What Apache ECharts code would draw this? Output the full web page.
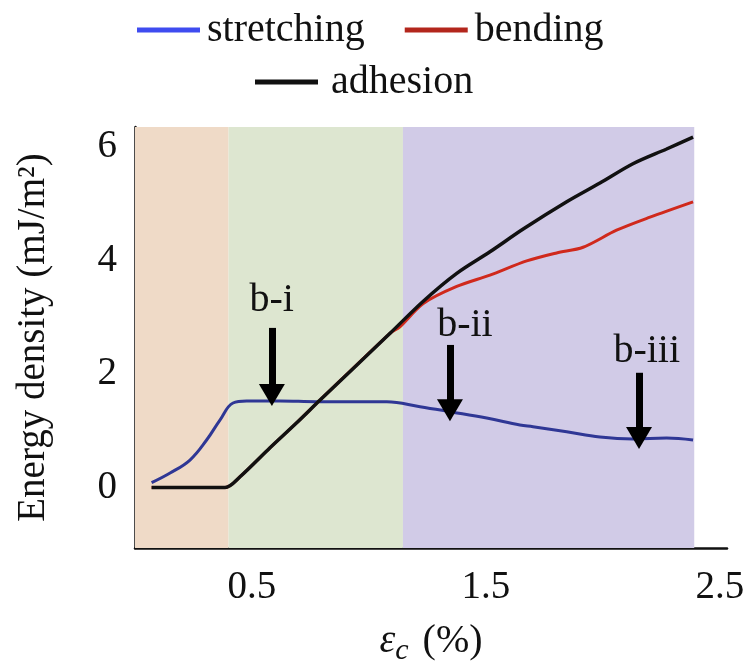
<!DOCTYPE html>
<html>
<head>
<meta charset="utf-8">
<script src="https://cdn.jsdelivr.net/npm/echarts@6/dist/echarts.min.js"></script>
<style>html,body{margin:0;padding:0;background:#fff}#c{width:745px;height:668px}</style>
</head>
<body>
<div id="c"></div>
<script>
// strain (%) and energy density (mJ/m^2)
const stretchingX = [0.071,0.150,0.235,0.306,0.363,0.419,0.477,0.620,0.777,1.076,1.218,1.346,1.503,1.645,1.701,1.845,1.987,2.128,2.272,2.385];
const stretchingY = [0.085,0.255,0.484,0.836,1.188,1.488,1.523,1.523,1.511,1.511,1.423,1.335,1.224,1.100,1.070,0.982,0.889,0.854,0.871,0.836];
const bendingX = [0.071,0.385,0.449,0.577,0.691,0.791,1.090,1.132,1.232,1.375,1.517,1.674,1.802,1.915,2.058,2.201,2.385];
const bendingY = [0.0,0.0,0.19,0.70,1.14,1.54,2.715,2.83,3.24,3.54,3.74,3.99,4.13,4.23,4.53,4.76,5.03];
const adhesionX = [0.071,0.385,0.449,0.577,0.691,0.791,1.090,1.232,1.375,1.517,1.659,1.845,1.987,2.128,2.272,2.385];
const adhesionY = [0.0,0.0,0.19,0.70,1.14,1.54,2.715,3.28,3.77,4.15,4.55,5.03,5.36,5.70,5.96,6.17];
// shaded regimes (strain bounds)
const regimeBounds = [0, 0.40, 1.145, 2.39];
const regimeColors = ['#efdac7', '#dde6d0', '#d1cbe7'];
// arrow annotations: label, x, arrow top y, arrow tip y, label x, label y
const annLabels = ['b-i', 'b-ii', 'b-iii'];
const annX = [0.585, 1.346, 2.154];
const annTop = [2.81, 2.51, 2.02];
const annTip = [1.63, 1.36, 0.87];
const annLabelX = [0.584, 1.410, 2.187];
const annLabelY = [3.30, 2.86, 2.39];
const xTicks = [0.5, 1.5, 2.5];
const yTicks = [0, 2, 4, 6];

const FONT = '"Liberation Serif", "Times New Roman", serif';
const zip = (a, b) => a.map((v, i) => [v, b[i]]);

const chart = echarts.init(document.getElementById('c'), null, {renderer: 'canvas'});
const bands = [];
for (let i = 0; i < regimeColors.length; i++) {
  bands.push([{xAxis: regimeBounds[i], itemStyle: {color: regimeColors[i]}}, {xAxis: regimeBounds[i + 1]}]);
}
chart.setOption({
  animation: false,
  backgroundColor: '#fff',
  textStyle: {fontFamily: FONT, color: '#111'},
  legend: [
    {
      left: 137, top: 10, padding: 0, icon: 'rect', itemWidth: 63, itemHeight: 5, itemGap: 40,
      textStyle: {fontFamily: FONT, fontSize: 40, color: '#111', padding: [0,0,0,2]},
      data: [
        {name: 'stretching', itemStyle: {color: '#3f4cf0'}},
        {name: 'bending', itemStyle: {color: '#b3261c'}}
      ]
    },
    {
      left: 255, top: 62, padding: 0, icon: 'rect', itemWidth: 63, itemHeight: 5,
      textStyle: {fontFamily: FONT, fontSize: 40, color: '#111', padding: [0,0,0,8]},
      data: [{name: 'adhesion', itemStyle: {color: '#111'}}]
    }
  ],
  grid: {left: 135, top: 127, right: 18, bottom: 120, containLabel: false, outerBoundsMode: 'none'},
  xAxis: {
    type: 'value', min: 0, max: 2.53,
    axisLine: {show: true, onZero: false, lineStyle: {color: '#111', width: 2.5}},
    axisTick: {show: false},
    splitLine: {show: false},
    axisLabel: {customValues: xTicks, fontFamily: FONT, fontSize: 39, color: '#111', margin: 20, formatter: v => v.toFixed(1)},
    name: '{e|ε}{s|c}{p|(%)}',
    nameLocation: 'middle', nameGap: 68,
    nameTextStyle: {
      rich: {
        e: {fontFamily: FONT, fontStyle: 'italic', fontSize: 40, color: '#111'},
        s: {fontFamily: FONT, fontStyle: 'italic', fontSize: 30, color: '#111', padding: [20, 0, 0, 0]},
        p: {fontFamily: FONT, fontSize: 40, color: '#111', padding: [0, 0, 0, 14]}
      }
    }
  },
  yAxis: {
    type: 'value', min: -1.065, max: 6.347,
    axisLine: {show: true, onZero: false, lineStyle: {color: '#111', width: 2.5}},
    axisTick: {show: false},
    splitLine: {show: false},
    axisLabel: {customValues: yTicks, fontFamily: FONT, fontSize: 39, color: '#111', margin: 18},
    name: 'Energy density (mJ/m²)',
    nameLocation: 'middle', nameGap: 82,
    nameTextStyle: {fontFamily: FONT, fontSize: 39, color: '#111'}
  },
  series: [
    {
      name: 'stretching', type: 'line', data: zip(stretchingX, stretchingY),
      showSymbol: false, smooth: 0.4, z: 3,
      itemStyle: {color: '#3f4cf0'},
      lineStyle: {color: '#2f3795', width: 3},
      markArea: {silent: true, data: bands}
    },
    {
      name: 'bending', type: 'line', data: zip(bendingX, bendingY),
      showSymbol: false, smooth: 0.3, z: 4,
      itemStyle: {color: '#b3261c'},
      lineStyle: {color: '#d0291c', width: 3}
    },
    {
      name: 'adhesion', type: 'line', data: zip(adhesionX, adhesionY),
      showSymbol: false, smooth: 0.3, z: 5,
      itemStyle: {color: '#111'},
      lineStyle: {color: '#111', width: 3.5}
    },
    {
      name: 'annotations', type: 'line', data: [], z: 6,
      markLine: {
        silent: true, symbol: ['none', 'triangle'], symbolSize: [26, 22],
        lineStyle: {color: '#000', width: 7, type: 'solid'},
        label: {show: false},
        data: annX.map((x, i) => [{coord: [x, annTop[i]]}, {coord: [x, annTip[i]]}])
      },
      markPoint: {
        silent: true, symbol: 'circle', symbolSize: 1, itemStyle: {color: 'rgba(0,0,0,0)'},
        label: {show: true, position: 'inside', formatter: '{b}', fontFamily: FONT, fontSize: 40, color: '#111'},
        data: annLabels.map((n, i) => ({name: n, coord: [annLabelX[i], annLabelY[i]]}))
      }
    }
  ]
});
</script>
</body>
</html>
